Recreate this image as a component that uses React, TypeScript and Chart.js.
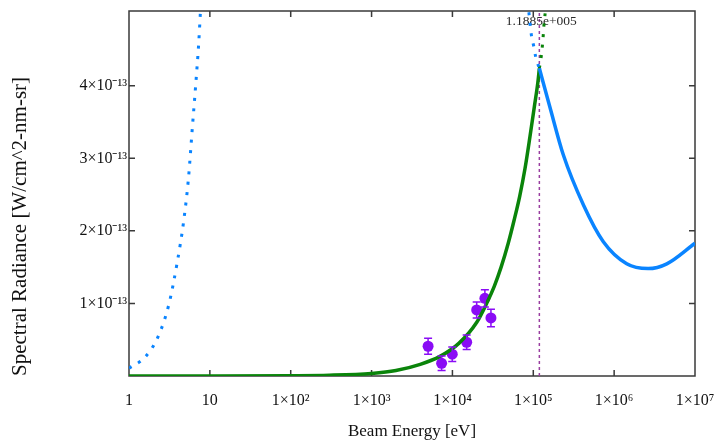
import React, { useEffect, useRef } from 'react';
import { Chart, registerables } from 'chart.js';

Chart.register(...registerables);

// ---------- data (radiance values in units of 1e-13 W/cm^2-nm-sr) ----------
const xTickValues = [1, 10, 100, 1e3, 1e4, 1e5, 1e6, 1e7];
const yTickValues = [1, 2, 3, 4];
const yMax = 5.03;
const peakEnergy = 1.1885e5;
const peakLabel = '1.1885e+005';

// blue curve, dotted branch at low energy
const blueLowEnergy = [1, 1.6, 2.29, 3.1, 3.93, 4.75, 5.43, 6.09, 6.69, 7.29, 7.65, 7.85];
const blueLowRadiance = [0.106, 0.266, 0.542, 0.979, 1.554, 2.138, 2.717, 3.439, 4.018, 4.597, 5.025, 5.25];

// blue curve, dotted branch just below the peak
const bluePeakEnergy = [83000, 87900, 94900, 101400, 107200, 118850];
const bluePeakRadiance = [5.3, 5.03, 4.69, 4.543, 4.396, 4.24];

// blue curve, solid branch above the peak
const blueHighEnergy = [118850, 161000, 235000, 416000, 735000, 1430000, 2630000, 4480000, 10000000];
const blueHighRadiance = [4.24, 3.7, 3.048, 2.36, 1.85, 1.546, 1.48, 1.546, 1.83];

// green curve, solid branch up to the peak
const greenEnergy = [1, 10, 100, 300, 1000, 2000, 4000, 7000, 12000, 20000, 27000, 33000, 40000, 49000, 58000, 68000, 79000, 91000, 104000, 114000, 118850];
const greenRadiance = [0, 0.0004, 0.004, 0.011, 0.036, 0.075, 0.16, 0.27, 0.45, 0.74, 1.02, 1.24, 1.5, 1.83, 2.15, 2.48, 2.86, 3.3, 3.74, 4.05, 4.24];

// green curve, dotted branch above the peak
const greenHighEnergy = [118850, 123700, 128400, 132200, 134900, 138800, 142700];
const greenHighRadiance = [4.24, 4.354, 4.506, 4.666, 4.81, 4.947, 5.1];

// measured points with error bars
const measEnergy = [5000, 7350, 9950, 15000, 19950, 25200, 29950];
const measRadiance = [0.41, 0.175, 0.3, 0.465, 0.91, 1.07, 0.8];
const measError = [0.11, 0.1, 0.1, 0.1, 0.11, 0.12, 0.12];

// ---------- helpers ----------
const SUP: Record<string, string> = {
  '0': '⁰', '1': '¹', '2': '²', '3': '³', '4': '⁴', '5': '⁵',
  '6': '⁶', '7': '⁷', '8': '⁸', '9': '⁹', '-': '⁻',
};
const sup = (s: string) => s.split('').map((c) => SUP[c] ?? c).join('');
const pts = (xs: number[], ys: number[]) => xs.map((x, i) => ({ x, y: ys[i] }));

const FONT = 'Liberation Serif';
const BLUE = '#0a84ff';
const GREEN = '#0a840a';
const PURPLE = '#8a0cf5';

const formatX = (v: number) => {
  if (v === 1) return '1';
  if (v === 10) return '10';
  const e = Math.round(Math.log10(v));
  return '1×10' + sup(String(e));
};

const extras = {
  id: 'extras',
  beforeDatasetsDraw(chart: any) {
    const { ctx, chartArea } = chart;
    const xs = chart.scales.x;
    const ys = chart.scales.y;
    const { left, right, top, bottom } = chartArea;
    ctx.save();
    // frame
    ctx.strokeStyle = '#3a3a3a';
    ctx.lineWidth = 1.5;
    ctx.strokeRect(left, top, right - left, bottom - top);
    // inward ticks
    const tl = 6;
    ctx.beginPath();
    xTickValues.forEach((v) => {
      const px = xs.getPixelForValue(v);
      if (px <= left + 1 || px >= right - 1) return;
      ctx.moveTo(px, bottom);
      ctx.lineTo(px, bottom - tl);
      ctx.moveTo(px, top);
      ctx.lineTo(px, top + tl);
    });
    yTickValues.forEach((v) => {
      const py = ys.getPixelForValue(v);
      ctx.moveTo(left, py);
      ctx.lineTo(left + tl, py);
      ctx.moveTo(right, py);
      ctx.lineTo(right - tl, py);
    });
    ctx.stroke();
    // vertical marker at the peak
    const mx = xs.getPixelForValue(peakEnergy);
    ctx.strokeStyle = '#9a3fa0';
    ctx.lineWidth = 1.5;
    ctx.setLineDash([3, 3]);
    ctx.beginPath();
    ctx.moveTo(mx, bottom);
    ctx.lineTo(mx, top);
    ctx.stroke();
    ctx.setLineDash([]);
    ctx.fillStyle = '#2a2a2a';
    ctx.font = `13.5px "${FONT}"`;
    ctx.textAlign = 'center';
    ctx.textBaseline = 'middle';
    ctx.fillText(peakLabel, mx + 2, top + 10);
    ctx.restore();
  },
  afterDatasetsDraw(chart: any) {
    const { ctx } = chart;
    const xs = chart.scales.x;
    const ys = chart.scales.y;
    ctx.save();
    ctx.strokeStyle = PURPLE;
    ctx.lineWidth = 1.5;
    ctx.beginPath();
    measEnergy.forEach((e, i) => {
      const px = xs.getPixelForValue(e);
      const y1 = ys.getPixelForValue(measRadiance[i] + measError[i]);
      const y2 = ys.getPixelForValue(measRadiance[i] - measError[i]);
      ctx.moveTo(px, y1);
      ctx.lineTo(px, y2);
      ctx.moveTo(px - 4, y1);
      ctx.lineTo(px + 4, y1);
      ctx.moveTo(px - 4, y2);
      ctx.lineTo(px + 4, y2);
    });
    ctx.stroke();
    ctx.restore();
  },
};

export default function App() {
  const ref = useRef<HTMLCanvasElement | null>(null);

  useEffect(() => {
    document.body.style.margin = '0';
    const canvas = ref.current;
    if (!canvas) return;
    const dotted = { borderDash: [3, 7.5], borderCapStyle: 'butt' as const };
    const lineBase = {
      showLine: true,
      pointRadius: 0,
      pointHoverRadius: 0,
      fill: false,
      cubicInterpolationMode: 'monotone' as const,
    };
    const chart = new Chart(canvas, {
      type: 'scatter',
      data: {
        datasets: [
          { ...lineBase, ...dotted, data: pts(blueLowEnergy, blueLowRadiance), borderColor: BLUE, borderWidth: 3 },
          { ...lineBase, ...dotted, data: pts(bluePeakEnergy, bluePeakRadiance), borderColor: BLUE, borderWidth: 3 },
          { ...lineBase, data: pts(blueHighEnergy, blueHighRadiance), borderColor: BLUE, borderWidth: 3.5 },
          { ...lineBase, data: pts(greenEnergy, greenRadiance), borderColor: GREEN, borderWidth: 3.5 },
          { ...lineBase, ...dotted, data: pts(greenHighEnergy, greenHighRadiance), borderColor: GREEN, borderWidth: 3 },
          {
            data: pts(measEnergy, measRadiance),
            showLine: false,
            pointRadius: 5.5,
            pointBackgroundColor: PURPLE,
            pointBorderColor: PURPLE,
            pointBorderWidth: 0,
          },
        ],
      },
      options: {
        animation: false,
        responsive: false,
        events: [],
        layout: { padding: { left: 0, top: 11, right: 22, bottom: 0 } },
        plugins: { legend: { display: false }, tooltip: { enabled: false } },
        scales: {
          x: {
            type: 'logarithmic',
            min: 1,
            max: 1e7,
            afterBuildTicks: (s: any) => {
              s.ticks = xTickValues.map((v) => ({ value: v }));
            },
            afterFit: (s: any) => {
              s.height = 67;
              s.paddingLeft = 0;
              s.paddingRight = 0;
            },
            grid: { display: false, drawTicks: false },
            border: { display: false },
            ticks: {
              callback: (v: any) => formatX(Number(v)),
              font: { family: FONT, size: 16 },
              color: '#111',
              padding: 15,
              maxRotation: 0,
              autoSkip: false,
            },
            title: {
              display: true,
              text: 'Beam Energy [eV]',
              font: { family: FONT, size: 17 },
              color: '#111',
              padding: { top: 0, bottom: 1 },
            },
          },
          y: {
            type: 'linear',
            min: 0,
            max: yMax,
            afterBuildTicks: (s: any) => {
              s.ticks = yTickValues.map((v) => ({ value: v }));
            },
            afterFit: (s: any) => {
              s.width = 129;
              s.paddingTop = 0;
              s.paddingBottom = 0;
            },
            grid: { display: false, drawTicks: false },
            border: { display: false },
            ticks: {
              callback: (v: any) => `${v}×10${sup('-13')}`,
              font: { family: FONT, size: 16 },
              color: '#111',
              padding: 2,
            },
            title: {
              display: true,
              text: 'Spectral Radiance [W/cm^2-nm-sr]',
              align: 'start',
              font: { family: FONT, size: 21 },
              color: '#111',
              padding: { top: 8, bottom: 0 },
            },
          },
        },
      },
      plugins: [extras],
    } as any);
    return () => chart.destroy();
  }, []);

  return (
    <canvas
      ref={ref}
      width={717}
      height={443}
      style={{ display: 'block', width: '717px', height: '443px' }}
    />
  );
}
